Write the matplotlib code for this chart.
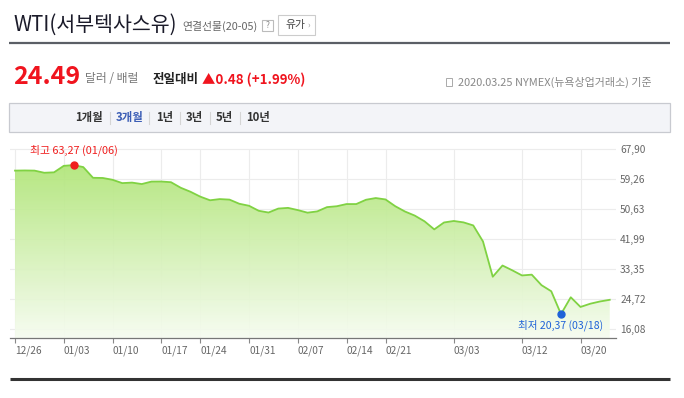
import numpy as np
import matplotlib
matplotlib.use('Agg')
import matplotlib.pyplot as plt
from matplotlib.patches import Rectangle

plt.rcParams['font.family'] = ['Noto Sans CJK KR', 'DejaVu Sans']

# trading days shown on the chart (12/26 ~ 03/25)
dates = ['12/26', '12/27', '12/30', '12/31', '01/02', '01/03', '01/06', '01/07', '01/08', '01/09',
         '01/10', '01/13', '01/14', '01/15', '01/16', '01/17', '01/21', '01/22', '01/23', '01/24',
         '01/27', '01/28', '01/29', '01/30', '01/31', '02/03', '02/04', '02/05', '02/06', '02/07',
         '02/10', '02/11', '02/12', '02/13', '02/14', '02/18', '02/19', '02/20', '02/21', '02/24',
         '02/25', '02/26', '02/27', '02/28', '03/02', '03/03', '03/04', '03/05', '03/06', '03/09',
         '03/10', '03/11', '03/12', '03/13', '03/16', '03/17', '03/18', '03/19', '03/20', '03/23',
         '03/24', '03/25']
close = [61.68, 61.72, 61.68, 61.06, 61.18, 63.05, 63.27, 62.70, 59.61, 59.56,
         59.04, 58.08, 58.23, 57.81, 58.52, 58.54, 58.34, 56.74, 55.59, 54.19,
         53.14, 53.48, 53.33, 52.14, 51.56, 50.11, 49.61, 50.75, 50.95, 50.32,
         49.57, 49.94, 51.17, 51.42, 52.05, 52.05, 53.29, 53.78, 53.38, 51.43,
         49.90, 48.73, 47.09, 44.76, 46.75, 47.18, 46.78, 45.90, 41.28, 31.13,
         34.36, 32.98, 31.50, 31.73, 28.70, 26.95, 20.37, 25.22, 22.43, 23.36,
         24.01, 24.49]
tick_labels = ['12/26', '01/03', '01/10', '01/17', '01/24', '01/31', '02/07', '02/14',
               '02/21', '03/03', '03/12', '03/20']
ytick_vals = [16.08, 24.72, 33.35, 41.99, 50.63, 59.26, 67.90]
tabs = ['1개월', '3개월', '1년', '3년', '5년', '10년']

W, H = 684, 398
fig = plt.figure(figsize=(W / 100, H / 100), dpi=100)
fig.patch.set_facecolor('white')

# page layer in pixel coords
bg = fig.add_axes([0, 0, 1, 1])
bg.set_xlim(0, W)
bg.set_ylim(H, 0)
bg.axis('off')

bg.text(13, 25, 'WTI(서부텍사스유)', fontsize=14.8, color='#1b1b2a', va='center', ha='left')
bg.text(182, 26, '연결선물(20-05)', fontsize=7.8, color='#666666', va='center', ha='left')
bg.add_patch(Rectangle((262, 20), 11, 11, fill=False, ec='#bbbbbb', lw=0.8))
bg.text(267.5, 25.5, '?', fontsize=6, color='#888888', va='center', ha='center')
bg.add_patch(Rectangle((278, 15), 37, 20, fill=False, ec='#cccccc', lw=0.8))
bg.text(295, 25, '유가', fontsize=7.8, color='#444444', va='center', ha='center')
bg.text(309, 25, '›', fontsize=6, color='#999999', va='center', ha='center')
bg.plot([9, 670], [43, 43], color='#5b5f66', lw=1.6, solid_capstyle='butt')

bg.text(13, 77, '24.49', fontsize=18, fontweight='bold', color='#f0141e', va='center', ha='left')
bg.text(85, 79, '달러 / 배럴', fontsize=8.5, color='#777777', va='center', ha='left')
bg.text(153, 80, '전일대비', fontsize=9, fontweight='bold', color='#222222', va='center', ha='left')
bg.text(202, 80, '▲0.48 (+1.99%)', fontsize=9.6, fontweight='bold', color='#f0141e',
        va='center', ha='left')
bg.add_patch(Rectangle((446, 78), 6, 8, fill=False, ec='#aaaaaa', lw=0.7))
bg.text(652, 82, '2020.03.25 NYMEX(뉴욕상업거래소) 기준', fontsize=7.9, color='#888888',
        va='center', ha='right')

bg.add_patch(Rectangle((9, 103), 661, 29, fc='#f3f4f8', ec='#c8cad0', lw=0.9))
tab_x = [75, 116, 156, 186, 216, 246]
for i, t in enumerate(tabs):
    bg.text(tab_x[i], 118, t, fontsize=8.2, fontweight='bold',
            color='#3b5db5' if t == '3개월' else '#333333', va='center', ha='left')
for sx in [110, 149, 180, 210, 240]:
    bg.plot([sx, sx], [112, 124], color='#d5d5d5', lw=0.8)

bg.plot([10, 670], [379, 379], color='#333333', lw=2.2, solid_capstyle='butt')

# chart
px = 9.75
x0 = 15
ppu = 30 / 8.636
ax_l, ax_r, ax_t, ax_b = 10, 616, 140, 338
ax = fig.add_axes([ax_l / W, 1 - ax_b / H, (ax_r - ax_l) / W, (ax_b - ax_t) / H])
xlo = (ax_l - x0) / px
xhi = (ax_r - x0) / px
ytop = 67.90 + (149 - ax_t) / ppu
ybot = 67.90 - (ax_b - 149) / ppu
ax.set_xlim(xlo, xhi)
ax.set_ylim(ybot, ytop)
ax.patch.set_alpha(0)

x = np.arange(len(close))
tick_pos = [dates.index(t) for t in tick_labels]

for v in ytick_vals:
    ax.axhline(v, color='#ececec', lw=0.8, zorder=0)
ax.vlines(tick_pos, ybot, 67.90, color='#ececec', lw=0.8, zorder=0)

poly = ax.fill_between(x, close, ybot, color='none', lw=0)
grad = np.linspace(0, 1, 256).reshape(-1, 1)
top_c = np.array([172, 228, 112]) / 255
bot_c = np.array([246, 252, 240]) / 255
img = top_c[None, None, :] * (1 - grad[:, :, None]) + bot_c[None, None, :] * grad[:, :, None]
img = np.repeat(img, 2, axis=1)
im = ax.imshow(img, extent=[xlo, xhi, ybot, 66], aspect='auto', origin='upper', zorder=1,
               alpha=0.92)
im.set_clip_path(poly.get_paths()[0], transform=ax.transData)
ax.plot(x, close, color='#80d243', lw=1.3, zorder=3)

imax = int(np.argmax(close))
imin = int(np.argmin(close))
ax.plot(imax, close[imax], 'o', color='#f01e1e', ms=5, zorder=4)
ax.plot(imin, close[imin], 'o', color='#1f62d8', ms=5, zorder=4)
ax.annotate('최고 %s (%s)' % (('%.2f' % close[imax]).replace('.', ','), dates[imax]),
            (imax, close[imax]), xytext=(0, 10.5), textcoords='offset points',
            ha='center', va='center', fontsize=7.8, color='#f01e1e')
ax.annotate('최저 %s (%s)' % (('%.2f' % close[imin]).replace('.', ','), dates[imin]),
            (imin, close[imin]), xytext=(0, -8), textcoords='offset points',
            ha='center', va='center', fontsize=7.6, color='#1f62d8')

for s in ['top', 'left', 'right']:
    ax.spines[s].set_visible(False)
ax.spines['bottom'].set_color('#777777')
ax.spines['bottom'].set_linewidth(0.9)

ax.set_xticks(tick_pos)
ax.set_xticklabels(tick_labels)
ax.tick_params(axis='x', length=3.5, color='#888888', labelsize=7.3, labelcolor='#666666', pad=2)
for lab in ax.get_xticklabels():
    lab.set_ha('left')
ax.yaxis.tick_right()
ax.set_yticks(ytick_vals)
ax.set_yticklabels([('%.2f' % v).replace('.', ',') for v in ytick_vals])
ax.tick_params(axis='y', length=0, labelsize=7.3, labelcolor='#666666', pad=3)

fig.savefig('out.png', dpi=100, facecolor='white')
